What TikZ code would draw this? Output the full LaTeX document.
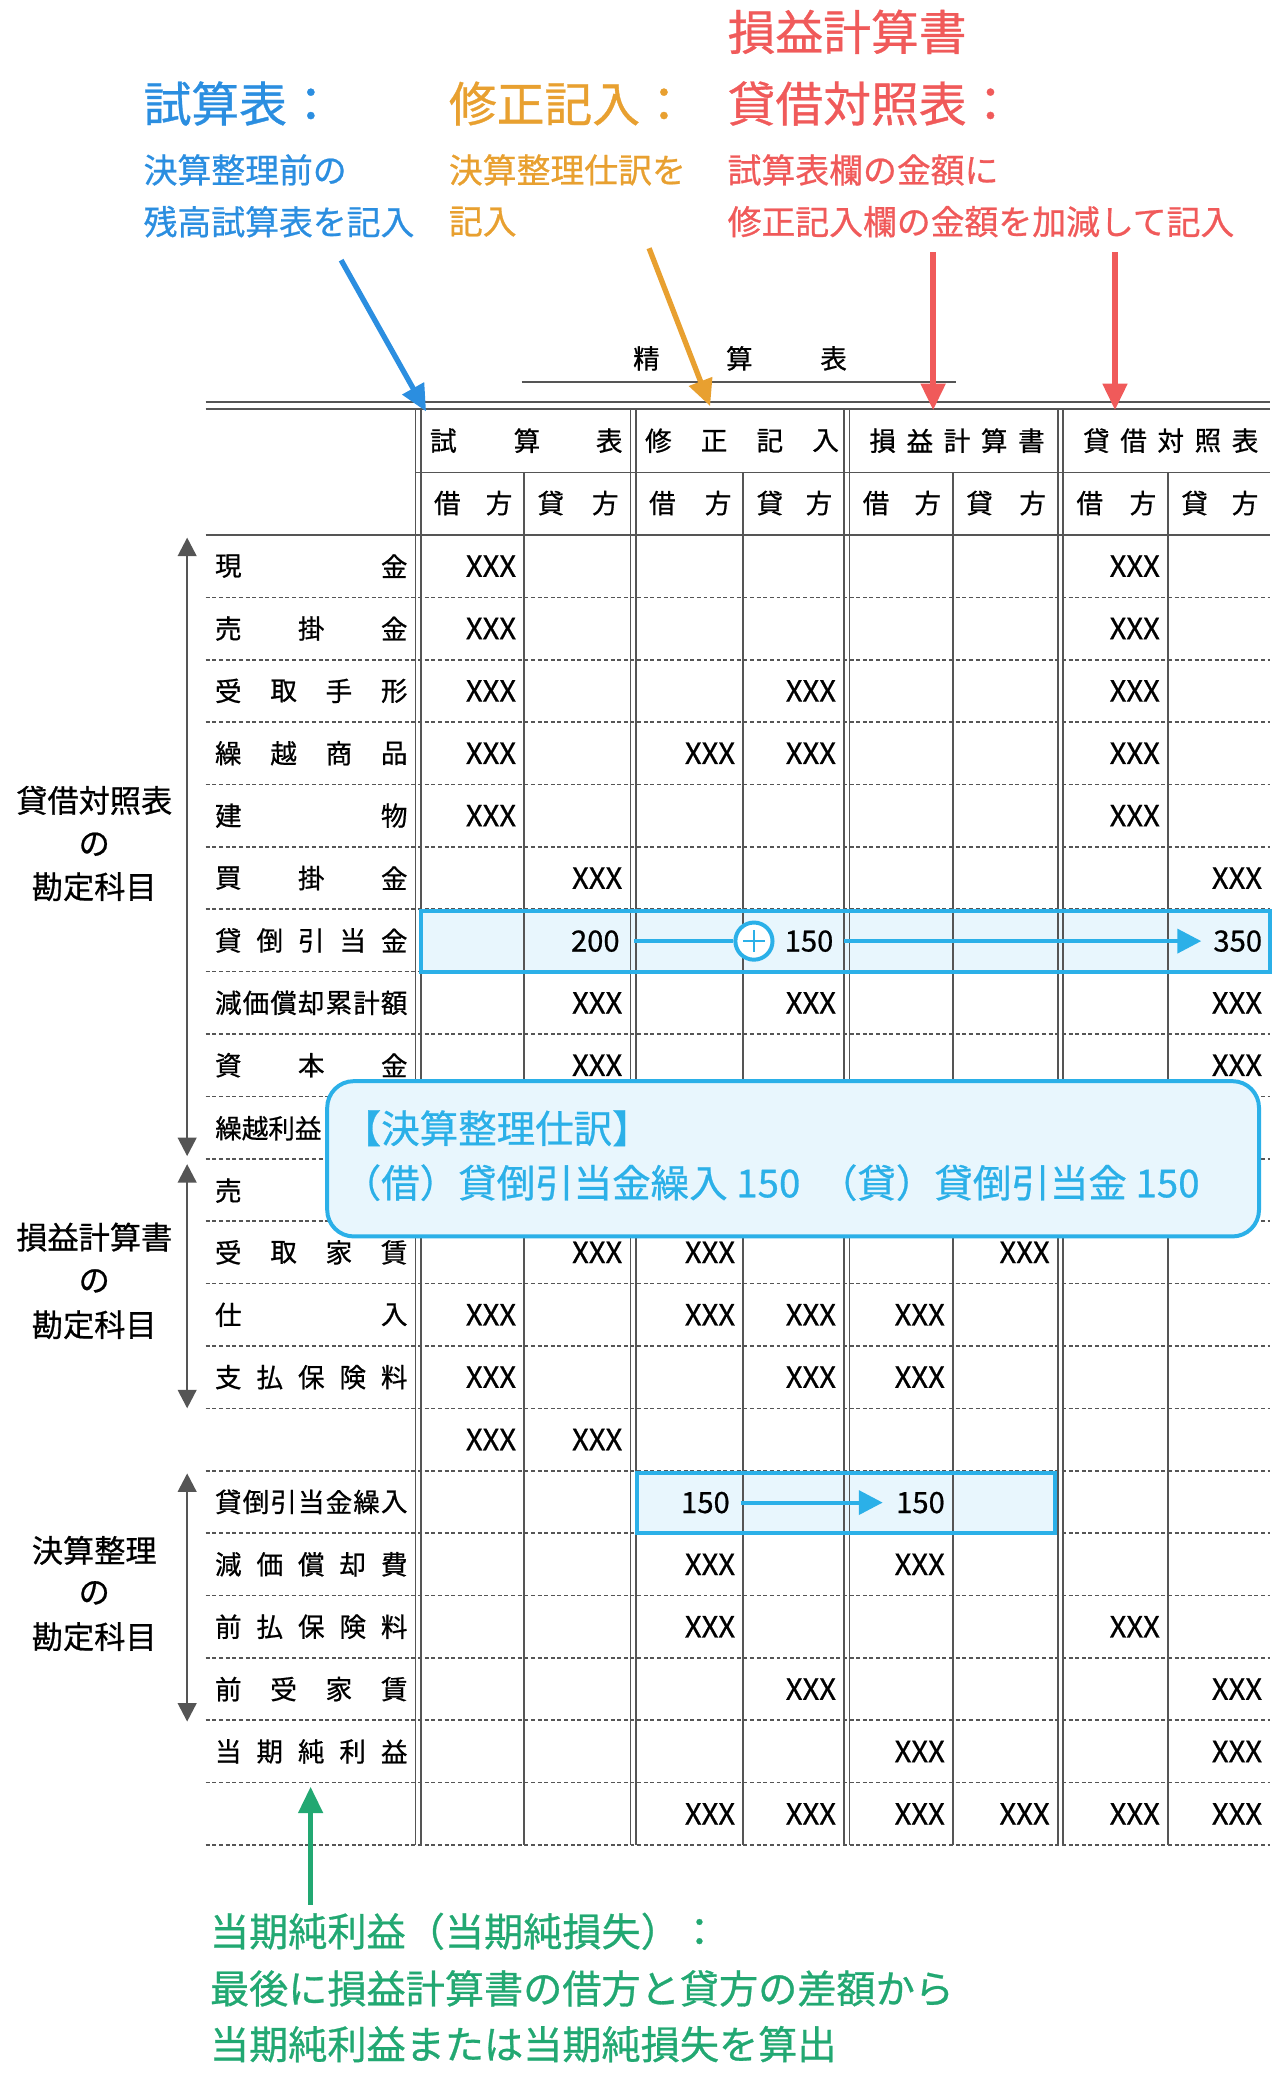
\documentclass[tikz,border=0pt]{standalone}
\usepackage{fontspec}
\setmainfont{Noto Sans CJK JP}
\newfontfamily\mfam[FakeBold=0.7]{Noto Sans CJK JP}
\usetikzlibrary{arrows.meta}
\definecolor{gl}{HTML}{555555}
\definecolor{cb}{HTML}{2B8EE0}
\definecolor{co}{HTML}{E8A030}
\definecolor{cr}{HTML}{F05A5A}
\definecolor{cg}{HTML}{22A872}
\definecolor{cc}{HTML}{2BB0E8}
\definecolor{cf}{HTML}{E8F6FD}
\tikzset{
 grid/.style={draw=gl,line width=1.4pt},
 dot/.style={draw=gl,line width=1.2pt,dash pattern=on 3pt off 2pt},
 cell/.style={anchor=east,font=\mfam\fontsize{22}{24}\selectfont,inner sep=0},
 ch/.style={font=\mfam\fontsize{20}{22}\selectfont,inner sep=0},
 big/.style={anchor=west,font=\mfam\fontsize{36}{40}\selectfont,inner sep=0},
 sub/.style={anchor=west,font=\mfam\fontsize{25.5}{28}\selectfont,inner sep=0},
 fat/.style={line width=4pt,-{Triangle[length=20pt,width=18pt]}},
}
\begin{document}
\begin{tikzpicture}[x=1pt,y=-1pt]
\useasboundingbox (0,0) rectangle (960,1564);
% highlights
\fill[cf] (317,686) rectangle (957,732);
\fill[cf] (480,1110) rectangle (795,1155);
% title
\node[ch] (t1) at (487,270) {精};
\node[ch] (t2) at (557,270) {算};
\node[ch] (t3) at (628,270) {表};
\draw[grid] (393,288) -- (720,288);
% top double lines
\draw[grid] (155,303) -- (957,303);
\draw[grid] (155,308) -- (957,308);
\draw[grid] (313,356) -- (957,356);
\draw[grid] (155,403) -- (957,403);
\foreach \r in {1,...,20}{\draw[dot] (155,403+47*\r) -- (957,403+47*\r);}
\draw[dot] (155,1390) -- (957,1390);
\foreach \x in {313,317,475,479,636,640,797,801}{\draw[grid] (\x,308) -- (\x,1390);}
\foreach \x in {395,560,718,880}{\draw[grid] (\x,356) -- (\x,1390);}
% headers
\node[ch] (h1a) at (334,332) {試};\node[ch] (h1b) at (397,332) {算};\node[ch] (h1c) at (459,332) {表};
\node[ch] (h2a) at (496,332) {修};\node[ch] (h2b) at (538,332) {正};\node[ch] (h2c) at (580,332) {記};\node[ch] (h2d) at (622,332) {入};
\foreach \c [count=\i from 0] in {損,益,計,算,書}{\node[ch] (h3\i) at (665+28*\i,332) {\c};}
\foreach \c [count=\i from 0] in {貸,借,対,照,表}{\node[ch] (h4\i) at (826+28*\i,332) {\c};}
\foreach \l/\r [count=\i] in {317/395,395/475,479/560,560/636,640/718,718/797,801/880,880/957}{
  \node[ch] (kl\i) at (\l+20,379) {\ifodd\i 借\else 貸\fi};
  \node[ch] (kr\i) at (\r-19,379) {方};}
% labels
\newcommand\spl[3]{\foreach \c [count=\i from 0] in {#3}{\node[ch] at ({172+125*\i/(#2-1)},{403+47*#1+23.5}) {\c};}}
\spl{0}{2}{現,金}
\spl{1}{3}{売,掛,金}
\spl{2}{4}{受,取,手,形}
\spl{3}{4}{繰,越,商,品}
\spl{4}{2}{建,物}
\spl{5}{3}{買,掛,金}
\spl{6}{5}{貸,倒,引,当,金}
\spl{7}{7}{減,価,償,却,累,計,額}
\spl{8}{3}{資,本,金}
\node[ch,anchor=west] (kr) at (162,850) {繰越利益};
\node[ch] (ur) at (172,897) {売};
\spl{11}{4}{受,取,家,賃}
\spl{12}{2}{仕,入}
\spl{13}{5}{支,払,保,険,料}
\spl{15}{7}{貸,倒,引,当,金,繰,入}
\spl{16}{5}{減,価,償,却,費}
\spl{17}{5}{前,払,保,険,料}
\spl{18}{4}{前,受,家,賃}
\spl{19}{5}{当,期,純,利,益}
% cells
\newcommand\cl[3]{\node[cell] at ({#2-6},{403+47*#1+23.5}) {#3};}
\foreach \r/\c in {0/395,0/880,1/395,1/880,2/395,2/636,2/880,3/395,3/560,3/636,3/880,4/395,4/880,
 5/475,5/957,7/475,7/636,7/957,8/475,8/957,11/475,11/560,11/797,12/395,12/560,12/636,12/718,
 13/395,13/636,13/718,14/395,14/475,16/560,16/718,17/560,17/880,18/636,18/957,19/718,19/957,
 20/560,20/636,20/718,20/797,20/880,20/957}{\cl{\r}{\c}{XXX}}
\node[cell] (v200) at (467,709) {200};
\node[cell] (v150) at (628,709) {150};
\node[cell] (v350) at (951,709) {350};
\node[cell] (w1) at (550,1132) {150};
\node[cell] (w2) at (712,1132) {150};
% highlight borders and arrows
\draw[cc,line width=3pt] (317,686) rectangle (957,732);
\draw[cc,line width=3pt] (480,1110) rectangle (795,1155);
\node[circle,draw=cc,fill=white,line width=3pt,minimum size=28pt,inner sep=0] (pl) at (568,709) {};
\draw[cc,line width=2pt] (560,709) -- (576,709) (568,701) -- (568,717);
\draw[cc,line width=3pt] (478,709) -- (pl.west);
\draw[cc,line width=3pt,-{Triangle[length=18pt,width=18pt]}] (636,709) -- (905,709);
\draw[cc,line width=3pt,-{Triangle[length=18pt,width=18pt]}] (558,1132) -- (665,1132);
% callout
\node[draw=cc,fill=cf,line width=3pt,rounded corners=20pt,minimum width=702pt,minimum height=117pt,anchor=north west] (co) at (245,813) {};
\node[anchor=west,text=cc,font=\mfam\fontsize{29}{32}\selectfont,inner sep=0] (co1) at (258,850) {【決算整理仕訳】};
\node[anchor=west,text=cc,font=\mfam\fontsize{29}{32}\selectfont,inner sep=0] (co2) at (258,891) {（借）貸倒引当金繰入 150\hspace{14pt}（貸）貸倒引当金 150};
% left brackets
\tikzset{lar/.style={draw=gl,line width=2pt,{Triangle[length=14pt,width=14pt]}-{Triangle[length=14pt,width=14pt]}}}
\coordinate (a1) at (141,405);\coordinate (a2) at (141,871);
\coordinate (b1) at (141,877);\coordinate (b2) at (141,1061);
\coordinate (c1) at (141,1110);\coordinate (c2) at (141,1297);
\draw[lar] (a1) -- (a2);\draw[lar] (b1) -- (b2);\draw[lar] (c1) -- (c2);
\tikzset{ll/.style={font=\mfam\fontsize{23.5}{26}\selectfont,inner sep=0}}
\node[ll] at (71,603) {貸借対照表};\node[ll] at (71,636) {の};\node[ll] at (71,668) {勘定科目};
\node[ll] at (71,932) {損益計算書};\node[ll] at (71,965) {の};\node[ll] at (71,998) {勘定科目};
\node[ll] at (71,1168) {決算整理};\node[ll] at (71,1200) {の};\node[ll] at (71,1233) {勘定科目};
% annotations
\node[big,text=cb] (n1) at (108,78) {試算表：};
\node[sub,text=cb] at (108,128) {決算整理前の};
\node[sub,text=cb] at (108,167) {残高試算表を記入};
\node[big,text=co] (n2) at (338,78) {修正記入：};
\node[sub,text=co] at (338,128) {決算整理仕訳を};
\node[sub,text=co] at (338,167) {記入};
\node[big,text=cr] at (548,24) {損益計算書};
\node[big,text=cr] (n3) at (548,78) {貸借対照表：};
\node[sub,text=cr] at (548,128) {試算表欄の金額に};
\node[sub,text=cr] at (548,167) {修正記入欄の金額を加減して記入};
\coordinate (p1) at (257,196);\coordinate (q1) at (321,310);
\coordinate (p2) at (489,187);\coordinate (q2) at (535,306);
\coordinate (p3) at (703,190);\coordinate (q3) at (703,309);
\coordinate (p4) at (840,190);\coordinate (q4) at (840,309);
\draw[fat,cb] (p1) -- (q1);
\draw[fat,co] (p2) -- (q2);
\draw[fat,cr] (p3) -- (q3);
\draw[fat,cr] (p4) -- (q4);
\coordinate (g1) at (234,1435);\coordinate (g2) at (234,1346);
\draw[fat,cg] (g1) -- (g2);
\tikzset{gt/.style={anchor=west,text=cg,font=\mfam\fontsize{29.5}{32}\selectfont,inner sep=0}}
\node[gt] at (158,1455) {当期純利益（当期純損失）：};
\node[gt] at (158,1498) {最後に損益計算書の借方と貸方の差額から};
\node[gt] at (158,1540) {当期純利益または当期純損失を算出};
\end{tikzpicture}
\end{document}
